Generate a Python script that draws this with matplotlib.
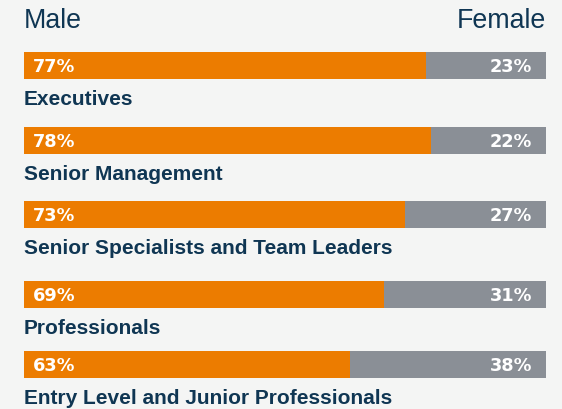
import matplotlib.pyplot as plt

categories = ["Executives", "Senior Management", "Senior Specialists and Team Leaders",
              "Professionals", "Entry Level and Junior Professionals"]
male = [77, 78, 73, 69, 63]
female = [23, 22, 27, 31, 38]

# layout (pixel rows of the bar centres, from the top)
bar_y = [65.3, 140.5, 214.5, 294.5, 364.5]
bar_h = 26.5

ORANGE = "#ec7c00"
GREY = "#8a8f96"
BG = "#f4f5f4"
NAVY = "#0f3653"

W, H = 562, 409
fig = plt.figure(figsize=(W / 100, H / 100), dpi=100)
fig.patch.set_facecolor(BG)
ax = fig.add_axes([24 / W, 0, 522 / W, 1])
ax.set_facecolor(BG)
ax.set_xlim(0, 1)
ax.set_ylim(H, 0)
ax.axis("off")

for cat, m, f, y in zip(categories, male, female, bar_y):
    share = m / (m + f)
    ax.barh(y, share, height=bar_h, left=0, color=ORANGE)
    ax.barh(y, 1 - share, height=bar_h, left=share, color=GREY)
    ax.text(9 / 522, y + 6.9, f"{m}%", color="white", fontsize=12.8,
            fontweight="bold", family="DejaVu Sans", ha="left", va="baseline")
    ax.text(1 - 14 / 522, y + 6.9, f"{f}%", color="white", fontsize=12.8,
            fontweight="bold", family="DejaVu Sans", ha="right", va="baseline")
    ax.text(0, y + bar_h / 2 + 26.7, cat, color=NAVY, fontsize=15,
            fontweight="bold", family="Liberation Sans", ha="left", va="baseline",
            clip_on=False)

ax.text(0, 28.3, "Male", color=NAVY, fontsize=19.3, family="Liberation Sans",
        ha="left", va="baseline", clip_on=False)
ax.text(1, 28.3, "Female", color=NAVY, fontsize=19.3, family="Liberation Sans",
        ha="right", va="baseline", clip_on=False)

fig.savefig("out.png", dpi=100, facecolor=BG)
